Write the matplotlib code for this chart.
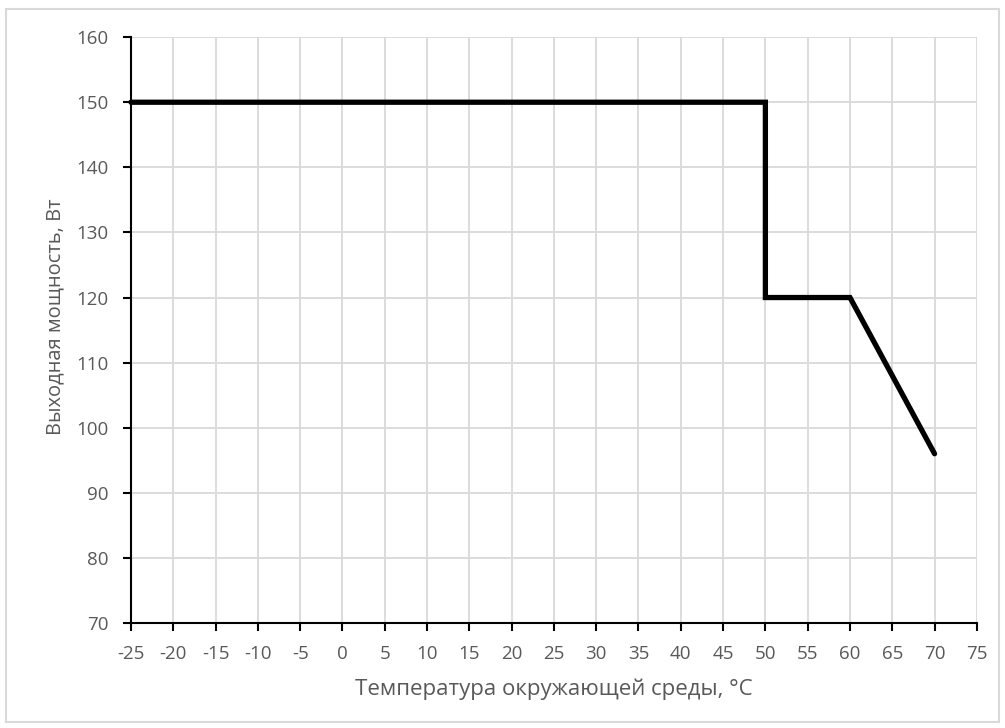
import matplotlib.pyplot as plt
from matplotlib.patches import Rectangle

# derating curve: output power vs ambient temperature
temp_c = [-25, 50, 50, 60, 70]
power_w = [150, 150, 120, 120, 96]

x_ticks = list(range(-25, 80, 5))
y_ticks = list(range(70, 170, 10))

plt.rcParams['font.family'] = ['Open Sans', 'DejaVu Sans']
plt.rcParams['axes.unicode_minus'] = False
txt = '#595959'
grid = '#d9d9d9'

fig = plt.figure(figsize=(10.05, 7.28), dpi=100)
ax = fig.add_axes([0.1303, 0.1442, 0.8417, 0.8048])

ax.plot(temp_c, power_w, color='black', lw=3.8, solid_capstyle='round',
        solid_joinstyle='miter', zorder=3, clip_on=False)

ax.set_xlim(-25, 75)
ax.set_ylim(70, 160)
ax.set_xticks(x_ticks)
ax.set_yticks(y_ticks)
ax.grid(True, color=grid, lw=1.3)
ax.set_axisbelow(True)

for s in ('top', 'right'):
    ax.spines[s].set_visible(False)
for s in ('left', 'bottom'):
    ax.spines[s].set_color('black')
    ax.spines[s].set_linewidth(1.5)

ax.tick_params(axis='both', direction='out', length=6, width=1.5,
               color='black', labelcolor=txt, labelsize=13.5, pad=10)

ax.set_xlabel('Температура окружающей среды, °C', color=txt, fontsize=16, va='center')
ax.set_ylabel('Выходная мощность, Вт', color=txt, fontsize=14.5, va='center')
ax.xaxis.set_label_coords(0.5, -0.1126)
ax.yaxis.set_label_coords(-0.0898, 0.522)

# light frame around the whole chart
fig.patches.append(Rectangle((0.006, 0.008), 0.988, 0.98, transform=fig.transFigure,
                             fill=False, edgecolor=grid, lw=1.5))

fig.savefig('out.png', dpi=100)
